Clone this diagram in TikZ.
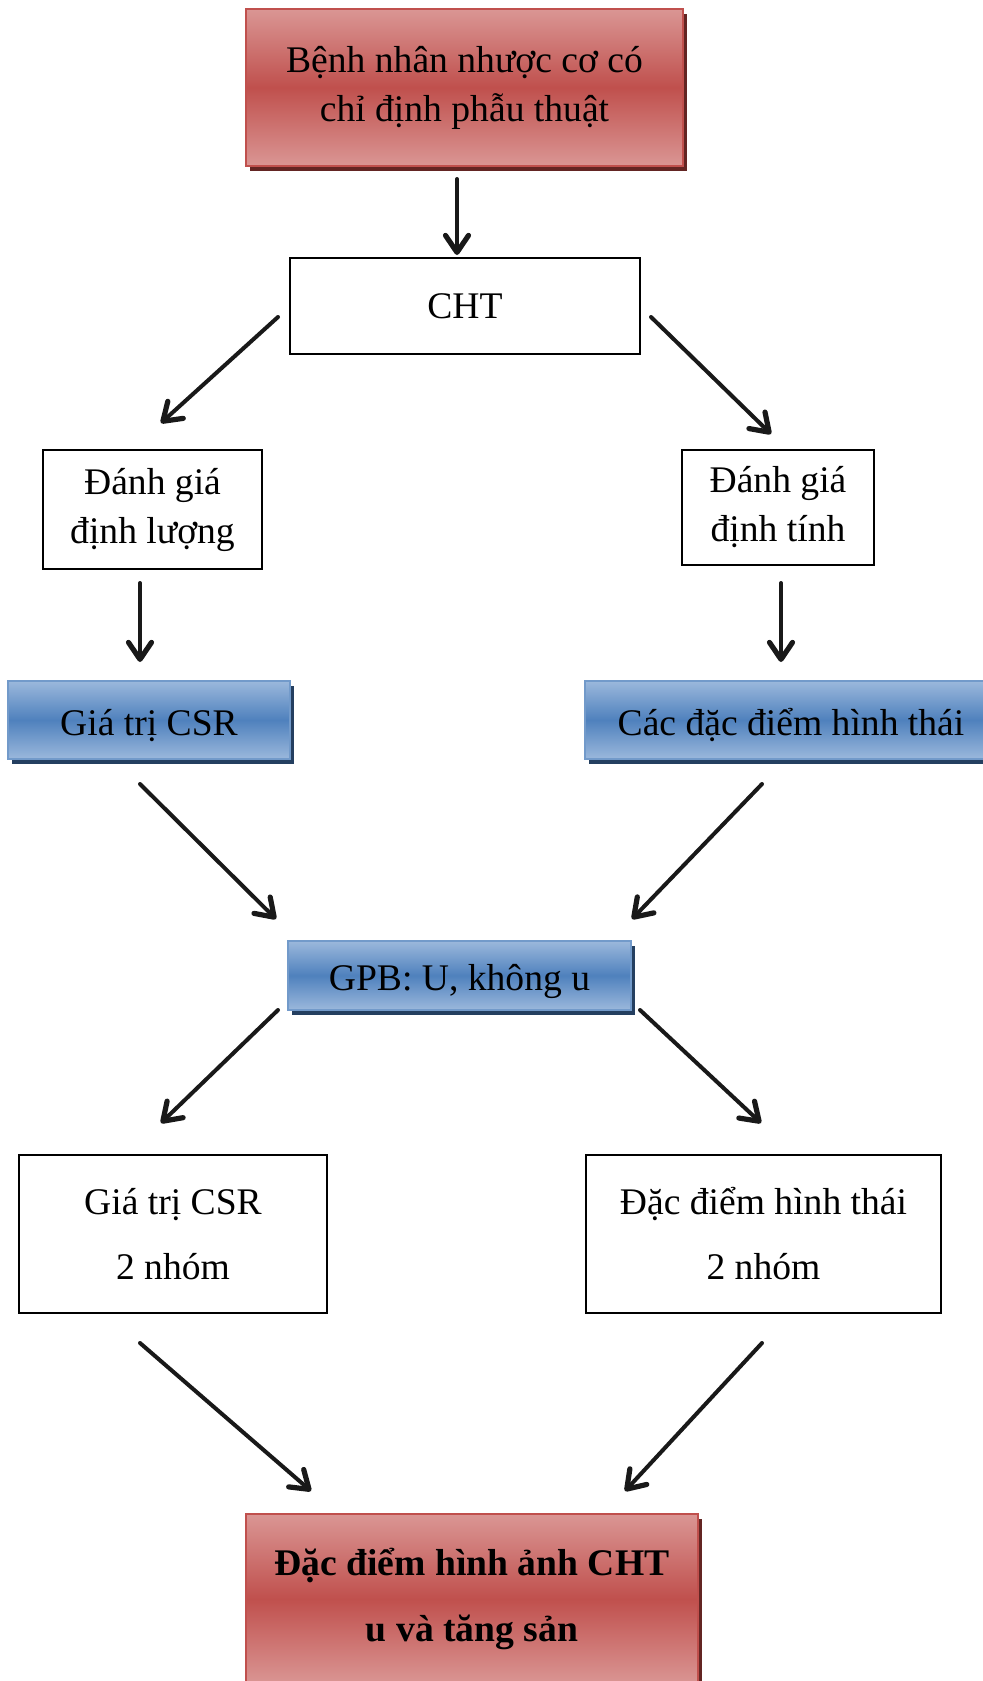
\documentclass[tikz,border=0pt]{standalone}
\usepackage{fontspec}
\setmainfont{Liberation Serif}
\usetikzlibrary{arrows.meta,shadows}

\definecolor{redmid}{HTML}{C0504D}
\definecolor{redlight}{HTML}{DA9694}
\definecolor{redshadow}{HTML}{632523}
\definecolor{bluemid}{HTML}{4F81BD}
\definecolor{bluelight}{HTML}{9BB8DC}
\definecolor{blueshadow}{HTML}{243F60}

\begin{document}
\begin{tikzpicture}[
    x=0.5pt, y=-0.5pt,
    every node/.style={
      font=\fontsize{18.8}{24.5}\selectfont,
      align=center, inner sep=0pt,
    },
    plainbox/.style={draw=black, line width=0.75pt, fill=white},
    redbox/.style={
      draw=redmid, line width=1pt,
      top color=redlight, bottom color=redlight, middle color=redmid,
      drop shadow={shadow xshift=2pt, shadow yshift=-2.5pt,
        fill=redshadow, opacity=1},
    },
    bluebox/.style={
      draw=bluemid!80!white, line width=1pt,
      text height=19pt, text depth=4pt,
      top color=bluelight, bottom color=bluelight, middle color=bluemid,
      drop shadow={shadow xshift=2pt, shadow yshift=-2.5pt,
        fill=blueshadow, opacity=1},
    },
    flow/.style={draw=black!90, line width=2pt, line cap=round,
      -{Straight Barb[length=8.5pt,width=11.5pt,line width=0.6pt 1,round]}},
  ]
  \useasboundingbox (0,0) rectangle (983,1681);
  \clip (0,0) rectangle (983,1681);

  % boxes
  \node[redbox, minimum width=218.5pt, minimum height=78.5pt] (patient)
    at (464.5,87.5) {Bệnh nhân nhược cơ có\\chỉ định phẫu thuật};
  \node[plainbox, minimum width=175pt, minimum height=48pt] (cht)
    at (465,306) {CHT};
  \node[plainbox, minimum width=109.5pt, minimum height=59.5pt] (quant)
    at (152.5,509.5) {Đánh giá\\định lượng};
  \node[plainbox, minimum width=96pt, minimum height=57.5pt] (qual)
    at (778,507.5) {Đánh giá\\định tính};
  \node[bluebox, minimum width=141pt, minimum height=39pt] (csr)
    at (149,720) {Giá trị CSR};
  \node[bluebox, minimum width=206pt, minimum height=39pt] (morph)
    at (791,720) {Các đặc điểm hình thái};
  \node[bluebox, minimum width=171.5pt, minimum height=34.5pt] (gpb)
    at (459.5,975.5) {GPB: U, không u};
  \node[plainbox, minimum width=154pt, minimum height=79pt,
    font=\fontsize{18.8}{32.5}\selectfont] (csrtwo)
    at (173,1234) {Giá trị CSR\\2 nhóm};
  \node[plainbox, minimum width=177.5pt, minimum height=79pt,
    font=\fontsize{18.8}{32.5}\selectfont] (morphtwo)
    at (763.5,1234) {Đặc điểm hình thái\\2 nhóm};
  \node[redbox, minimum width=226pt, minimum height=85pt,
    font=\fontsize{18.8}{33}\selectfont\bfseries] (result)
    at (472,1599) {Đặc điểm hình ảnh CHT\\u và tăng sản};

  % arrow ends
  \coordinate (p1) at (457,179);  \coordinate (q1) at (457,255);
  \coordinate (p2) at (278,317);  \coordinate (q2) at (161,423);
  \coordinate (p3) at (651,317);  \coordinate (q3) at (771,434);
  \coordinate (p4) at (140,583);  \coordinate (q4) at (140,662);
  \coordinate (p5) at (781,583);  \coordinate (q5) at (781,662);
  \coordinate (p6) at (140,784);  \coordinate (q6) at (276,919);
  \coordinate (p7) at (762,784);  \coordinate (q7) at (632,919);
  \coordinate (p8) at (278,1010); \coordinate (q8) at (161,1123);
  \coordinate (p9) at (640,1010); \coordinate (q9) at (761,1123);
  \coordinate (p10) at (140,1343); \coordinate (q10) at (311,1491);
  \coordinate (p11) at (762,1343); \coordinate (q11) at (625,1491);

  \foreach \i in {1,...,11}
    \draw[flow] (p\i) -- (q\i);
\end{tikzpicture}
\end{document}
